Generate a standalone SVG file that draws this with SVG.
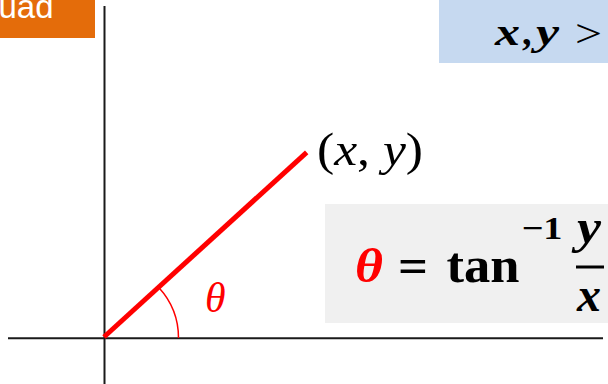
<svg xmlns="http://www.w3.org/2000/svg" width="608" height="384" viewBox="0 0 608 384">
  <style>
    .axis { stroke: #1a1a1a; stroke-width: 2; fill: none; }
    .serif { font-family: "Liberation Serif", "Times New Roman", serif; }
    .bi { font-weight: bold; font-style: italic; }
    .b { font-weight: bold; }
    .it { font-style: italic; }
  </style>
  <rect width="608" height="384" fill="#ffffff"/>

  <g id="title-tab">
    <rect x="0" y="0" width="95" height="38" fill="#E46C0A"/>
    <text x="-1.5" y="17.5" font-family="Liberation Sans, Arial, sans-serif" font-size="33" fill="#ffffff">uad</text>
  </g>

  <g id="condition-box">
    <rect x="439" y="0" width="169" height="63" fill="#C6D9F0"/>
    <text class="serif bi" x="495" y="45" font-size="38" fill="#000000" textLength="25" lengthAdjust="spacingAndGlyphs">x</text>
    <text class="serif b" x="522" y="45" font-size="38" fill="#000000">,</text>
    <text class="serif bi" x="536" y="45" font-size="38" fill="#000000" textLength="23" lengthAdjust="spacingAndGlyphs">y</text>
    <text class="serif" x="575" y="47" font-size="40" fill="#000000" textLength="27" lengthAdjust="spacingAndGlyphs">&gt;</text>
  </g>

  <g id="axes">
    <line class="axis" x1="8" y1="338.3" x2="603" y2="338.3"/>
    <line class="axis" x1="104.5" y1="6" x2="104.5" y2="384"/>
  </g>

  <g id="connectors">
    <line x1="104" y1="337" x2="306.7" y2="152.3" stroke="#FF0000" stroke-width="5"/>
    <path d="M178.5 338 A74.5 74.5 0 0 0 159 287.8" fill="none" stroke="#FF0000" stroke-width="1.5"/>
  </g>

  <g id="point-label">
    <text class="serif" x="317" y="165" font-size="46" fill="#000000" textLength="106" lengthAdjust="spacingAndGlyphs">(<tspan class="it">x</tspan>, <tspan class="it">y</tspan>)</text>
  </g>

  <g id="angle-label">
    <text class="serif it" x="205" y="312" font-size="42" fill="#FF0000">θ</text>
  </g>

  <g id="formula">
    <rect x="325" y="204" width="283" height="119" fill="#F0F0F0"/>
    <text class="serif bi" x="355" y="282" font-size="48" fill="#FF0000" textLength="28" lengthAdjust="spacingAndGlyphs">θ</text>
    <text class="serif b" x="398" y="282" font-size="48" fill="#000000" textLength="30" lengthAdjust="spacingAndGlyphs">=</text>
    <text class="serif b" x="446.5" y="282" font-size="50" fill="#000000" textLength="73" lengthAdjust="spacingAndGlyphs">tan</text>
    <text class="serif b" x="521.5" y="239" font-size="32" fill="#000000" textLength="41" lengthAdjust="spacingAndGlyphs">−1</text>
    <text class="serif bi" x="577" y="243" font-size="48" fill="#000000" textLength="24" lengthAdjust="spacingAndGlyphs">y</text>
    <line x1="576" y1="267" x2="604" y2="267" stroke="#000000" stroke-width="3"/>
    <text class="serif bi" x="577" y="311" font-size="48" fill="#000000" textLength="24" lengthAdjust="spacingAndGlyphs">x</text>
  </g>
</svg>
